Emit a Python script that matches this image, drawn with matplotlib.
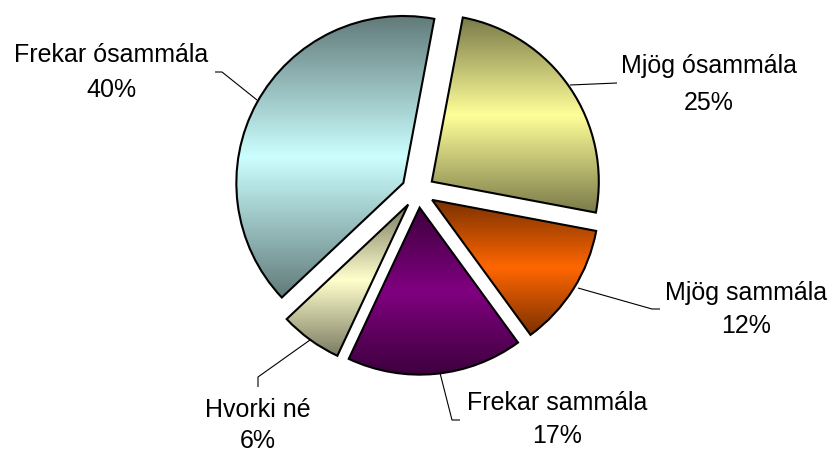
import numpy as np
import matplotlib
matplotlib.use("Agg")
import matplotlib.pyplot as plt
from matplotlib.colors import to_rgb

# ---- data ----
categories = ["Mjög ósammála", "Mjög sammála", "Frekar sammála", "Hvorki né", "Frekar ósammála"]
values = [25, 12, 17, 6, 40]
colors = ["#FFFF99", "#FF6600", "#800080", "#FFFFCC", "#CCFFFF"]

W, H = 833, 453
plt.rcParams['font.family'] = ['Liberation Sans', 'DejaVu Sans']

fig = plt.figure(figsize=(W / 100, H / 100), dpi=100)
ax = fig.add_axes([0, 0, 1, 1])

def P(x, y):
    return (x, H - y)

cx, cy = P(418, 191)
radius = 167
wedges, _ = ax.pie(values, startangle=79.3, counterclock=False,
                   explode=[0.1 * radius] * len(values), radius=radius, center=(cx, cy),
                   wedgeprops=dict(edgecolor="black", linewidth=1.5))
ax.set_xlim(0, W)
ax.set_ylim(0, H)
ax.axis("off")

# gradient fill: dark at top and bottom, full colour in the middle
N = 256
t = np.linspace(0, 1, N)
shade = 1 - 0.52 * np.abs(2 * t - 1)
for w, c in zip(wedges, colors):
    base = np.array(to_rgb(c))
    grad = shade[:, None, None] * base[None, None, :]
    polys = w.get_path().to_polygons()
    pts = np.vstack(polys)
    x0, y0 = pts.min(axis=0)
    x1, y1 = pts.max(axis=0)
    w.set_facecolor("none")
    w.set_zorder(3)
    im = ax.imshow(grad, extent=[x0, x1, y0, y1], origin="lower",
                   aspect="auto", interpolation="bilinear", zorder=2)
    im.set_clip_path(w)
ax.set_xlim(0, W)
ax.set_ylim(0, H)

# labels: (center x, baseline line1, baseline line2) in pixel coords
label_pos = {
    "Mjög ósammála": (709, 73, 110),
    "Mjög sammála": (746, 300, 333),
    "Frekar sammála": (557, 410, 443),
    "Hvorki né": (258, 417, 448),
    "Frekar ósammála": (111, 62, 97),
}
leaders = {
    "Mjög ósammála": [(570, 85), (617, 83)],
    "Mjög sammála": [(578, 288), (652, 309), (660, 309)],
    "Frekar sammála": [(440, 373), (452, 420), (460, 420)],
    "Hvorki né": [(310, 340), (258, 377), (258, 387)],
    "Frekar ósammála": [(257, 100), (222, 72), (215, 72)],
}
for cat, v in zip(categories, values):
    x, b1, b2 = label_pos[cat]
    ax.text(*P(x, b1), cat, ha="center", va="baseline", fontsize=18, color="black", zorder=5)
    ax.text(*P(x, b2), f"{v}%", ha="center", va="baseline", fontsize=18, color="black", zorder=5)
    pts = [P(px, py) for px, py in leaders[cat]]
    xs, ys = zip(*pts)
    ax.plot(xs, ys, color="black", linewidth=0.8, zorder=4, solid_capstyle="butt")

fig.savefig("out.png", dpi=100)
